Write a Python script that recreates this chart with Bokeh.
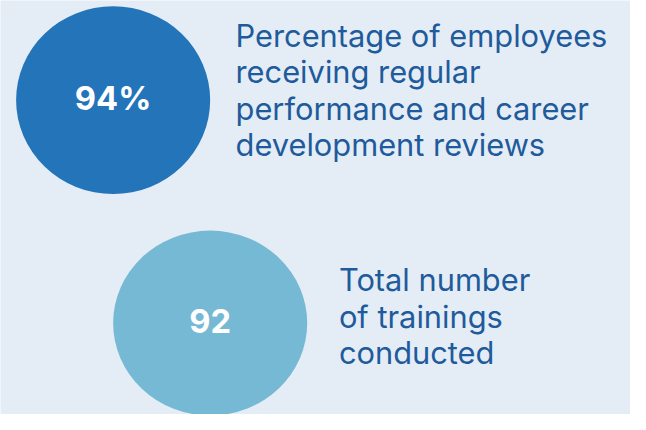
from bokeh.plotting import figure
from bokeh.models import Range1d
from bokeh.core.properties import value
from bokeh.embed import file_html
from bokeh.resources import INLINE

# ---- data ----
metric_values = ["94%", "92"]
metric_labels = [
    ["Percentage of employees", "receiving regular", "performance and career", "development reviews"],
    ["Total number", "of trainings", "conducted"],
]
circle_colors = ["#2474ba", "#76b9d5"]

# ---- layout (pixel-space of the 646x430 reference) ----
circle_cx = [115.5, 215.0]
circle_cy = [103.5, 335.0]
circle_w = [199, 199]
circle_h = [195, 192]
value_center_y = [101.0, 333.3]      # vertical centre of the digits
label_x = [241, 347]
label_first_center = [36.0, 290.0]   # vertical centre of capitals, first line
line_step = 38.0

REF_W, REF_H = 646, 430
W, H = 630, 414
k = min(W / REF_W, H / REF_H)

p = figure(width=W, height=H, output_backend="svg", toolbar_location=None,
           x_range=Range1d(0, REF_W), y_range=Range1d(REF_H, 0),
           min_border=0, outline_line_color=None,
           background_fill_color="#e4edf5", border_fill_color="#e4edf5")
p.axis.visible = False
p.grid.visible = False

p.ellipse(x=circle_cx, y=circle_cy, width=circle_w, height=circle_h,
          fill_color=circle_colors, line_color=None)

p.text(x=circle_cx, y=value_center_y, text=metric_values,
       text_font=value("Inter"), text_font_style="bold", text_font_size=f"{34*k:.1f}px",
       text_color="white", text_align="center", text_baseline="middle")

xs, ys, ts = [], [], []
for i, lines in enumerate(metric_labels):
    for j, line in enumerate(lines):
        xs.append(label_x[i])
        ys.append(label_first_center[i] + j * line_step)
        ts.append(line)
p.text(x=xs, y=ys, text=ts, text_font=value("Inter"), text_font_size=f"{32*k:.1f}px",
       text_color="#1f5b9c", text_align="left", text_baseline="middle")

open("out.html", "w").write(file_html(p, INLINE))
